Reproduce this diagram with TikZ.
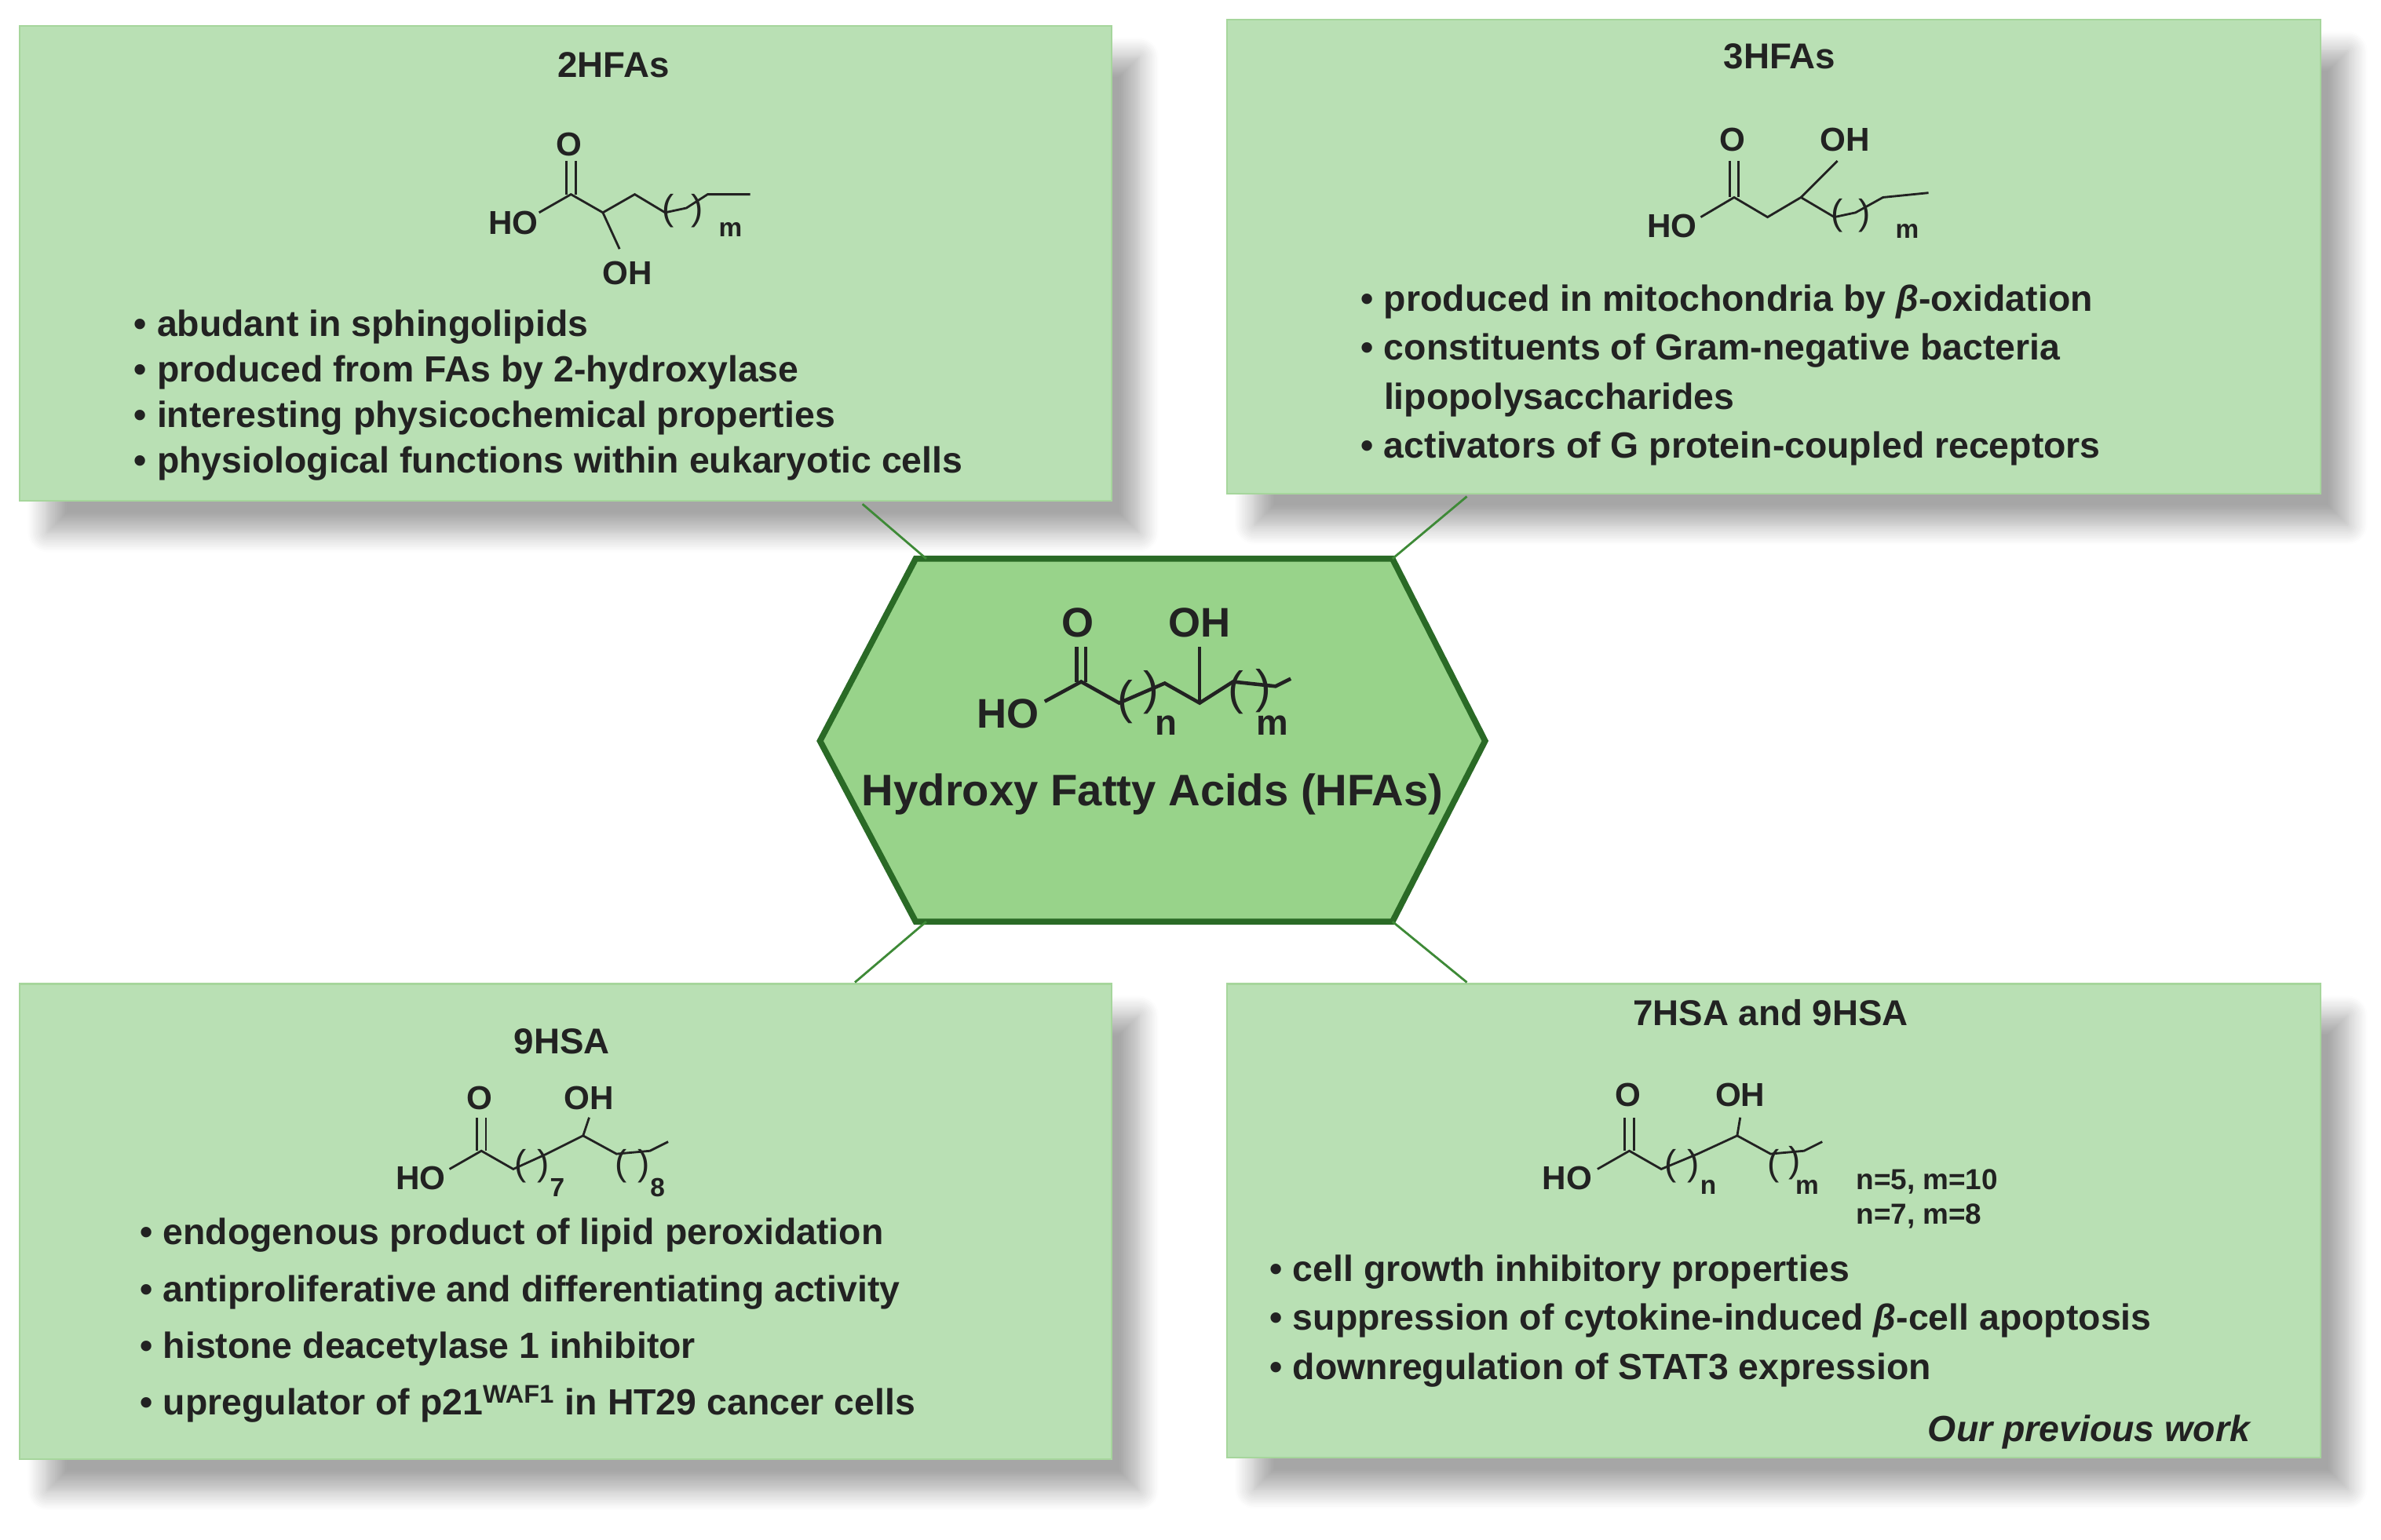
\documentclass[tikz,border=0pt]{standalone}
\usepackage{fontspec}
\setmainfont{Liberation Sans}
\usetikzlibrary{shadows.blur}
\definecolor{boxfill}{HTML}{B9E0B4}
\definecolor{boxline}{HTML}{A6D69C}
\definecolor{hexfill}{HTML}{98D38A}
\definecolor{hexline}{HTML}{2A6A26}
\definecolor{conn}{HTML}{3E8A37}
\definecolor{ink}{HTML}{222222}
\tikzset{
 infobox/.style={draw=boxline,fill=boxfill,line width=0.6pt,blur shadow={shadow xshift=3.5mm,shadow yshift=-4mm,shadow blur radius=2.5mm,shadow blur steps=12,shadow opacity=35}},
 bond/.style={line width=0.8pt,draw=ink},
 lbl/.style={font=\bfseries\fontsize{12}{14}\selectfont,inner sep=0pt,text=ink},
 ttl/.style={font=\bfseries\fontsize{13}{15}\selectfont,inner sep=0pt,text=ink},
 blist/.style={align=left,anchor=north west,inner sep=0pt,text=ink},
 par/.style={font=\fontsize{13}{13}\selectfont,inner sep=0pt,text=ink},
 sub/.style={font=\bfseries\fontsize{9.5}{10}\selectfont,inner sep=0pt,text=ink},
 conline/.style={draw=conn,line width=0.8pt}
}
\begin{document}
\begin{tikzpicture}[x=0.1934mm,y=-0.1934mm]
\useasboundingbox (0,0) rectangle (1568,1014);
% boxes
\path[infobox] (13,17) rectangle (732,330);
\path[infobox] (808,13) rectangle (1528,325);
\path[infobox] (13,648) rectangle (732,961);
\path[infobox] (808,648) rectangle (1528,960);
\coordinate (tl) at (568,332); \coordinate (tr) at (966,327);
\coordinate (bl) at (563,647); \coordinate (br) at (966,647);
% hexagon
\path[draw=hexline,fill=hexfill,line width=2.2pt] (540,488) coordinate (h1) -- (603,368) coordinate (h2) -- (917,368) coordinate (h3) -- (978,488) -- (917,607) coordinate (h5) -- (603,607) coordinate (h6) -- cycle;
\draw[conline] (tl) -- (610,368);
\draw[conline] (tr) -- (917,368);
\draw[conline] (bl) -- (610,607);
\draw[conline] (br) -- (917,607);
% central structure
\begin{scope}[line width=1.3pt,draw=ink]
\draw (688,462) -- (712,449) -- (737,463) -- (767,450) -- (790,463) -- (812,449) -- (840,452) -- (850,447);
\draw (709,449) -- (709,426); \draw (715,449) -- (715,426);
\draw (790,463) -- (790,426);
\end{scope}
\node[par,scale=1.3] at (741,462) {(}; \node[par,scale=1.3] at (758,456) {)};
\node[par,scale=1.3] at (814,456) {(}; \node[par,scale=1.3] at (832,455) {)};
\node[font=\bfseries\fontsize{13}{13}\selectfont,text=ink] at (768,478) {n};
\node[font=\bfseries\fontsize{13}{13}\selectfont,text=ink] at (838,478) {m};
\node[font=\bfseries\fontsize{15}{16}\selectfont,text=ink] at (664,470) {HO};
\node[font=\bfseries\fontsize{15}{16}\selectfont,text=ink] at (710,410) {O};
\node[font=\bfseries\fontsize{15}{16}\selectfont,text=ink] at (790,410) {OH};
\node[font=\bfseries\fontsize{16}{18}\selectfont,text=ink] (hfa) at (759,523) {Hydroxy Fatty Acids (HFAs)};
% TL: 2HFAs
\node[ttl] (t1) at (404,43) {2HFAs};
\draw[bond] (355,140) -- (376,128) -- (397,140) -- (418,128) -- (438,140) -- (452,137) -- (466,128) -- (494,128);
\draw[bond] (373,128) -- (373,106); \draw[bond] (379,128) -- (379,106);
\draw[bond] (397,140) -- (408,164);
\node[par] at (440,139) {(}; \node[par] at (459,139) {)};
\node[sub] at (481,151) {m};
\node[lbl] at (338,147) {HO}; \node[lbl] at (375,95) {O}; \node[lbl] at (413,180) {OH};
\node[blist,font=\bfseries\fontsize{13.2}{16.5}\selectfont] at (88,204) {• abudant in sphingolipids\\• produced from FAs by 2-hydroxylase\\• interesting physicochemical properties\\• physiological functions within eukaryotic cells};
% TR: 3HFAs
\node[ttl] (t2) at (1172,37) {3HFAs};
\draw[bond] (1120,143) -- (1142,130) -- (1164,143) -- (1186,130) -- (1208,143) -- (1222,140) -- (1240,130) -- (1270,127);
\draw[bond] (1139,130) -- (1139,106); \draw[bond] (1145,130) -- (1145,106);
\draw[bond] (1186,130) -- (1210,106);
\node[par] at (1210,142) {(}; \node[par] at (1228,142) {)};
\node[sub] at (1256,152) {m};
\node[lbl] at (1101,149) {HO}; \node[lbl] at (1141,92) {O}; \node[lbl] at (1215,92) {OH};
\node[blist,font=\bfseries\fontsize{13.2}{17.8}\selectfont] at (896,187) {• produced in mitochondria by \textit{β}-oxidation\\• constituents of Gram-negative bacteria\\\phantom{• }lipopolysaccharides\\• activators of G protein-coupled receptors};
% BL: 9HSA
\node[ttl] (t3) at (370,686) {9HSA};
\draw[bond] (296,770) -- (317,758) -- (338,770) -- (360,760) -- (384,748) -- (406,760) -- (428,758) -- (440,752);
\draw[bond] (314,758) -- (314,736); \draw[bond] (320,758) -- (320,736);
\draw[bond] (384,748) -- (388,736);
\node[par] at (343,768) {(}; \node[par] at (358,768) {)};
\node[par] at (409,768) {(}; \node[par] at (424,768) {)};
\node[sub] at (367,782) {7}; \node[sub] at (433,782) {8};
\node[lbl] at (277,776) {HO}; \node[lbl] at (316,723) {O}; \node[lbl] at (388,723) {OH};
\node[blist,font=\bfseries\fontsize{13.2}{20.6}\selectfont] at (92,802) {• endogenous product of lipid peroxidation\\• antiproliferative and differentiating activity\\• histone deacetylase 1 inhibitor\\• upregulator of p21\textsuperscript{WAF1} in HT29 cancer cells};
% BR: 7HSA and 9HSA
\node[ttl] (t4) at (1166,667) {7HSA and 9HSA};
\draw[bond] (1052,770) -- (1073,758) -- (1094,770) -- (1118,760) -- (1144,748) -- (1166,760) -- (1188,758) -- (1200,752);
\draw[bond] (1070,758) -- (1070,736); \draw[bond] (1076,758) -- (1076,736);
\draw[bond] (1144,748) -- (1146,736);
\node[par] at (1100,768) {(}; \node[par] at (1115,768) {)};
\node[par] at (1168,768) {(}; \node[par] at (1182,766) {)};
\node[sub] at (1125,782) {n}; \node[sub] at (1190,782) {m};
\node[lbl] at (1032,776) {HO}; \node[lbl] at (1072,721) {O}; \node[lbl] at (1146,721) {OH};
\node[blist,font=\bfseries\fontsize{10.5}{12.5}\selectfont] at (1222,770) {n=5, m=10\\n=7, m=8};
\node[blist,font=\bfseries\fontsize{13.2}{17.8}\selectfont] at (836,826) {• cell growth inhibitory properties\\• suppression of cytokine-induced \textit{β}-cell apoptosis\\• downregulation of STAT3 expression};
\node[font=\bfseries\itshape\fontsize{13.2}{15}\selectfont,anchor=east,text=ink] at (1488,943) {Our previous work};
\end{tikzpicture}
\end{document}
